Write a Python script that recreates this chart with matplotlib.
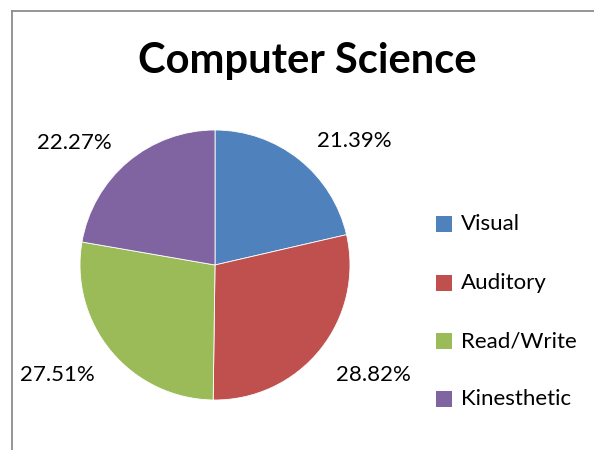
import matplotlib
matplotlib.use("Agg")
import matplotlib.pyplot as plt
from matplotlib.patches import Rectangle
from matplotlib.lines import Line2D

title = "Computer Science"
categories = ["Visual", "Auditory", "Read/Write", "Kinesthetic"]
values = [21.39, 28.82, 27.51, 22.27]
colors = ["#4F81BD", "#C0504D", "#9BBB59", "#8064A2"]

# label positions (pie data units) — layout only
label_pos = [(1.03, 0.92), (1.17, -0.815), (-1.17, -0.815), (-1.04, 0.905)]

W, H = 594, 450
fig = plt.figure(figsize=(W / 100, H / 100), dpi=100)
fig.patch.set_facecolor("white")

font = "Lato"

# chart frame (extends off the right and bottom edges)
fig.add_artist(Line2D([11.5 / W, 11.5 / W], [1 - 10.5 / H, 0], transform=fig.transFigure,
                      color="#8C8C8C", lw=1.3))
fig.add_artist(Line2D([11.5 / W, 1], [1 - 10.5 / H, 1 - 10.5 / H], transform=fig.transFigure,
                      color="#8C8C8C", lw=1.3))

cx, cy, r = 215, 265, 135
ax = fig.add_axes([(cx - r) / W, (H - cy - r) / H, 2 * r / W, 2 * r / H])
ax.pie(values, colors=colors, startangle=90, counterclock=False, radius=1,
       wedgeprops=dict(linewidth=0.6, edgecolor="white"))
ax.set_xlim(-1, 1)
ax.set_ylim(-1, 1)
ax.set_aspect("equal")
ax.axis("off")

for v, (x, y) in zip(values, label_pos):
    ax.text(x, y, f"{v:.2f}%", ha="center", va="center", fontsize=16,
            family=font, color="black", clip_on=False)

fig.text(307 / W, 1 - 61 / H, title, ha="center", va="center", fontsize=30,
         fontweight="bold", family=font, color="black")

# legend
leg_y = [224, 283, 341, 399]
for cat, col, y in zip(categories, colors, leg_y):
    fig.add_artist(Rectangle((436 / W, 1 - (y + 8) / H), 16 / W, 16 / H,
                             transform=fig.transFigure, facecolor=col, edgecolor="none"))
    fig.text(461 / W, 1 - y / H, cat, ha="left", va="center", fontsize=16,
             family=font, color="black")

fig.savefig("out.png", dpi=100, facecolor="white")
